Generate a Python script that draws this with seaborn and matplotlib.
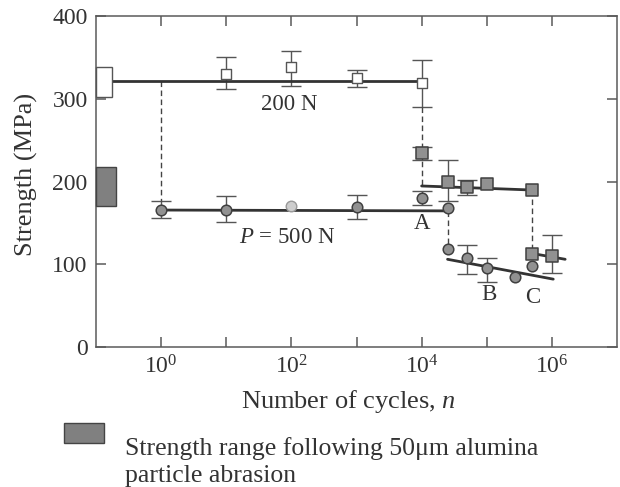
import numpy as np
import matplotlib
matplotlib.use("Agg")
import matplotlib.pyplot as plt
import seaborn as sns
from matplotlib.patches import Rectangle
from matplotlib.ticker import NullLocator, FixedLocator, FixedFormatter

nan = np.nan

# ---------------- data ----------------
# 200 N, open squares
n_200 = [10, 100, 1000, 1e4]
s_200 = [330, 338, 325, 319]
lo_200 = [312, 315, 314, 290]
hi_200 = [351, 358, 335, 347]

# grey squares after first drop
n_sq1 = [1e4, 2.5e4, 5e4, 1e5, 5e5]
s_sq1 = [235, 200, 193, 197, 190]
lo_sq1 = [226, 176, 184, nan, nan]
hi_sq1 = [242, 226, 202, nan, nan]

# grey squares after second drop (C)
n_sq2 = [5e5, 1e6]
s_sq2 = [112, 110]
lo_sq2 = [nan, 90]
hi_sq2 = [nan, 135]

# P = 500 N, grey circles
n_500 = [1, 10, 100, 1000, 1e4, 2.5e4]
s_500 = [165, 166, 170, 169.5, 180, 167.5]
lo_500 = [156, 151, nan, 155, 172, nan]
hi_500 = [176, 182, nan, 184, 188, nan]
light_500 = [False, False, True, False, False, False]

# grey circles after drop (B)
n_c2 = [2.5e4, 5e4, 1e5, 2.7e5, 5e5]
s_c2 = [118, 108, 95, 84, 98]
lo_c2 = [nan, 88, 79, nan, nan]
hi_c2 = [nan, 123, 107, nan, nan]

# fitted lines
fit200_n, fit200_s = [0.176, 1e4], [322, 322]
fit500_n, fit500_s = [1, 2.5e4], [165.5, 164.5]
fitsq1_n, fitsq1_s = [1e4, 5e5], [194.6, 189.7]
fitsq2_n, fitsq2_s = [5e5, 1.6e6], [113, 106]
fitc2_n, fitc2_s = [2.5e4, 1.05e6], [106, 82]

# dashed drops: (n, from, to)
drops_n = [1, 1e4, 2.5e4, 5e5]
drops_top = [322, 290, 164.5, 189.7]
drops_bot = [176, 194.6, 124, 118]

# strength ranges shown as bars at the left edge
initial_range = [302, 338]
abrasion_range = [170, 217]

xticks = [1, 10, 100, 1e3, 1e4, 1e5, 1e6]
xticklabels = ["$10^{0}$", "", "$10^{2}$", "", "$10^{4}$", "", "$10^{6}$"]
yticks = [0, 100, 200, 300, 400]

# ---------------- style ----------------
sns.set_theme(style="ticks")
plt.rcParams["font.family"] = ["Liberation Serif", "DejaVu Serif"]
plt.rcParams["mathtext.fontset"] = "custom"
plt.rcParams["mathtext.rm"] = "Liberation Serif"
plt.rcParams["mathtext.it"] = "Liberation Serif:italic"

TXT = "#333333"
SP = "#5a5a5a"
LINE = "#333333"
GREY = "#919191"
EDGE = "#404040"

fig = plt.figure(figsize=(6.2, 4.87), dpi=100)
ax = fig.add_axes([96 / 620, 1 - 347 / 487, 521 / 620, 331 / 487])

ax.set_xscale("log")
ax.set_xlim(0.1, 1e7)
ax.set_ylim(0, 400)

def ebar(n, s, lo, hi):
    n = np.array(n, float); s = np.array(s, float)
    lo = np.array(lo, float); hi = np.array(hi, float)
    m = np.isfinite(lo)
    ax.errorbar(n[m], s[m], yerr=[s[m] - lo[m], hi[m] - s[m]], fmt="none",
                ecolor="#555555", elinewidth=1.0, capsize=7, capthick=1.0, zorder=2)

for args in [(n_200, s_200, lo_200, hi_200), (n_sq1, s_sq1, lo_sq1, hi_sq1),
             (n_sq2, s_sq2, lo_sq2, hi_sq2), (n_500, s_500, lo_500, hi_500),
             (n_c2, s_c2, lo_c2, hi_c2)]:
    ebar(*args)

# fitted lines
for fn, fs in [(fit200_n, fit200_s), (fit500_n, fit500_s), (fitsq1_n, fitsq1_s),
               (fitsq2_n, fitsq2_s), (fitc2_n, fitc2_s)]:
    sns.lineplot(x=fn, y=fs, ax=ax, color=LINE, linewidth=2.0, zorder=3,
                 estimator=None, sort=False)

# dashed drops
for dn, dt, db in zip(drops_n, drops_top, drops_bot):
    sns.lineplot(x=[dn, dn], y=[dt, db], ax=ax, color="#444444", linewidth=1.0,
                 linestyle=(0, (4, 2.5)), zorder=2.5, estimator=None, sort=False)

# markers
sns.scatterplot(x=n_200, y=s_200, ax=ax, marker="s", s=62, color="white",
                edgecolor="#555555", linewidth=1.0, zorder=4)
sns.scatterplot(x=n_sq1, y=s_sq1, ax=ax, marker="s", s=66, color=GREY,
                edgecolor=EDGE, linewidth=1.1, zorder=4)
sns.scatterplot(x=n_sq2, y=s_sq2, ax=ax, marker="s", s=66, color=GREY,
                edgecolor=EDGE, linewidth=1.1, zorder=4)
n5 = np.array(n_500); s5 = np.array(s_500); lt = np.array(light_500)
sns.scatterplot(x=n5[~lt], y=s5[~lt], ax=ax, marker="o", s=58, color=GREY,
                edgecolor=EDGE, linewidth=1.1, zorder=4)
sns.scatterplot(x=n5[lt], y=s5[lt], ax=ax, marker="o", s=58, color="#cdcdcd",
                edgecolor="#999999", linewidth=1.0, zorder=4)
sns.scatterplot(x=n_c2, y=s_c2, ax=ax, marker="o", s=58, color=GREY,
                edgecolor=EDGE, linewidth=1.1, zorder=4)

# range bars at left edge
ax.add_patch(Rectangle((0.1, initial_range[0]), 0.176 - 0.1,
                       initial_range[1] - initial_range[0], facecolor="white",
                       edgecolor="#555555", linewidth=1.0, zorder=5, clip_on=False))
ax.add_patch(Rectangle((0.1, abrasion_range[0]), 0.203 - 0.1,
                       abrasion_range[1] - abrasion_range[0], facecolor="#808080",
                       edgecolor="#444444", linewidth=1.0, zorder=5, clip_on=False))

# annotations
ax.text(93.5, 286.4, "200 N", ha="center", va="baseline", fontsize=16.5, color=TXT)
ax.text(87, 125.7, "$P$ = 500 N", ha="center", va="baseline", fontsize=16.5, color=TXT)
ax.text(1e4, 142.6, "A", ha="center", va="baseline", fontsize=16.5, color=TXT)
ax.text(1.1e5, 56.8, "B", ha="center", va="baseline", fontsize=16.5, color=TXT)
ax.text(5e5, 53, "C", ha="center", va="baseline", fontsize=16.5, color=TXT)

# axes styling
ax.xaxis.set_major_locator(FixedLocator(xticks))
ax.xaxis.set_major_formatter(FixedFormatter(xticklabels))
ax.xaxis.set_minor_locator(NullLocator())
ax.set_yticks(yticks)
ax.tick_params(axis="both", which="major", direction="in", length=7.2, width=1.1,
               color=SP, top=True, right=True, labelsize=17, labelcolor=TXT, pad=6)
for sp in ax.spines.values():
    sp.set_color(SP)
    sp.set_linewidth(1.1)

ax.set_xlabel("Number of cycles, $n$", fontsize=19, color=TXT)
ax.xaxis.set_label_coords((348 - 96) / 521, -(388 - 347) / 331)
ax.xaxis.label.set_va("top")
ax.set_ylabel("Strength (MPa)", fontsize=19, color=TXT)
ax.yaxis.set_label_coords((38 - 96) / 521, (347 - 174.5) / 331)

# legend-like note under the chart
fig.patches.append(Rectangle((64 / 620, 1 - 443 / 487), 40 / 620, 20 / 487,
                             transform=fig.transFigure, facecolor="#808080",
                             edgecolor="#444444", linewidth=1.0))
fig.text(125 / 620, 1 - 455 / 487, "Strength range following 50\u03bcm alumina",
         ha="left", va="baseline", fontsize=18.5, color=TXT)
fig.text(125 / 620, 1 - 482 / 487, "particle abrasion",
         ha="left", va="baseline", fontsize=18.5, color=TXT)

fig.savefig("out.png", dpi=100, facecolor="white")
